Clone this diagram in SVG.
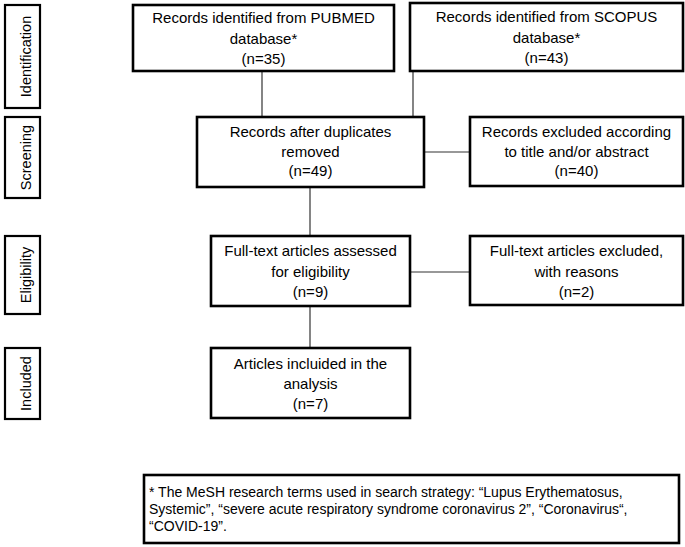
<svg xmlns="http://www.w3.org/2000/svg" width="685" height="547" viewBox="0 0 685 547">
<style>
.box{fill:#fff;stroke:#000;stroke-width:2.6}
.lab{fill:#fff;stroke:#000;stroke-width:2.2}
.t{font-family:"Liberation Sans",Arial,sans-serif;font-size:15px;fill:#000;text-anchor:middle}
.l{font-family:"Liberation Sans",Arial,sans-serif;font-size:14.5px;fill:#000;text-anchor:middle}
.f{font-family:"Liberation Sans",Arial,sans-serif;font-size:14px;fill:#000}
.c{stroke:#333;stroke-width:1.2;fill:none}
</style>
<rect width="685" height="547" fill="#fff"/>
<g id="connectors">
<line class="c" x1="262" y1="71" x2="262" y2="117"/>
<line class="c" x1="413" y1="71" x2="413" y2="117"/>
<line class="c" x1="424" y1="152" x2="470" y2="152"/>
<line class="c" x1="310" y1="187" x2="310" y2="236"/>
<line class="c" x1="410" y1="272" x2="470" y2="272"/>
<line class="c" x1="310" y1="306" x2="310" y2="348"/>
</g>
<g id="label-identification">
<rect class="lab" x="5" y="5" width="35" height="103"/>
<text class="l" transform="translate(31,56.5) rotate(-90)">Identification</text>
</g>
<g id="label-screening">
<rect class="lab" x="5" y="117" width="35" height="81"/>
<text class="l" transform="translate(31,157.5) rotate(-90)">Screening</text>
</g>
<g id="label-eligibility">
<rect class="lab" x="5" y="236" width="35" height="78"/>
<text class="l" transform="translate(31,275) rotate(-90)">Eligibility</text>
</g>
<g id="label-included">
<rect class="lab" x="5" y="348" width="35" height="71"/>
<text class="l" transform="translate(31,383.5) rotate(-90)">Included</text>
</g>
<g id="pubmed">
<rect class="box" x="133" y="5" width="261" height="66"/>
<text class="t" x="263.5" y="23">Records identified from PUBMED</text>
<text class="t" x="263.5" y="44">database*</text>
<text class="t" x="263.5" y="64">(n=35)</text>
</g>
<g id="scopus">
<rect class="box" x="410" y="3" width="273" height="68"/>
<text class="t" x="546.5" y="22">Records identified from SCOPUS</text>
<text class="t" x="546.5" y="43">database*</text>
<text class="t" x="546.5" y="63">(n=43)</text>
</g>
<g id="after-duplicates">
<rect class="box" x="197" y="117" width="227" height="70"/>
<text class="t" x="310.5" y="137">Records after duplicates</text>
<text class="t" x="310.5" y="157">removed</text>
<text class="t" x="310.5" y="176">(n=49)</text>
</g>
<g id="excluded-title">
<rect class="box" x="470" y="117" width="213" height="69"/>
<text class="t" x="576.5" y="137">Records excluded according</text>
<text class="t" x="576.5" y="157">to title  and/or abstract</text>
<text class="t" x="576.5" y="176">(n=40)</text>
</g>
<g id="fulltext-assessed">
<rect class="box" x="211" y="236" width="199" height="70"/>
<text class="t" x="310.5" y="256">Full-text articles assessed</text>
<text class="t" x="310.5" y="277">for eligibility</text>
<text class="t" x="310.5" y="297">(n=9)</text>
</g>
<g id="fulltext-excluded">
<rect class="box" x="470" y="236" width="213" height="69"/>
<text class="t" x="576.5" y="256">Full-text articles excluded,</text>
<text class="t" x="576.5" y="277">with reasons</text>
<text class="t" x="576.5" y="297">(n=2)</text>
</g>
<g id="included">
<rect class="box" x="211" y="348" width="199" height="70"/>
<text class="t" x="310.5" y="369">Articles incluided in the</text>
<text class="t" x="310.5" y="389">analysis</text>
<text class="t" x="310.5" y="409">(n=7)</text>
</g>
<g id="footnote">
<rect class="box" x="144" y="475" width="535" height="68"/>
<text class="f" x="149" y="497">* The MeSH research terms used in search strategy: “Lupus Erythematosus,</text>
<text class="f" x="149" y="514">Systemic”, “severe acute respiratory syndrome coronavirus 2”, “Coronavirus“,</text>
<text class="f" x="149" y="531">“COVID-19”.</text>
</g>
</svg>
